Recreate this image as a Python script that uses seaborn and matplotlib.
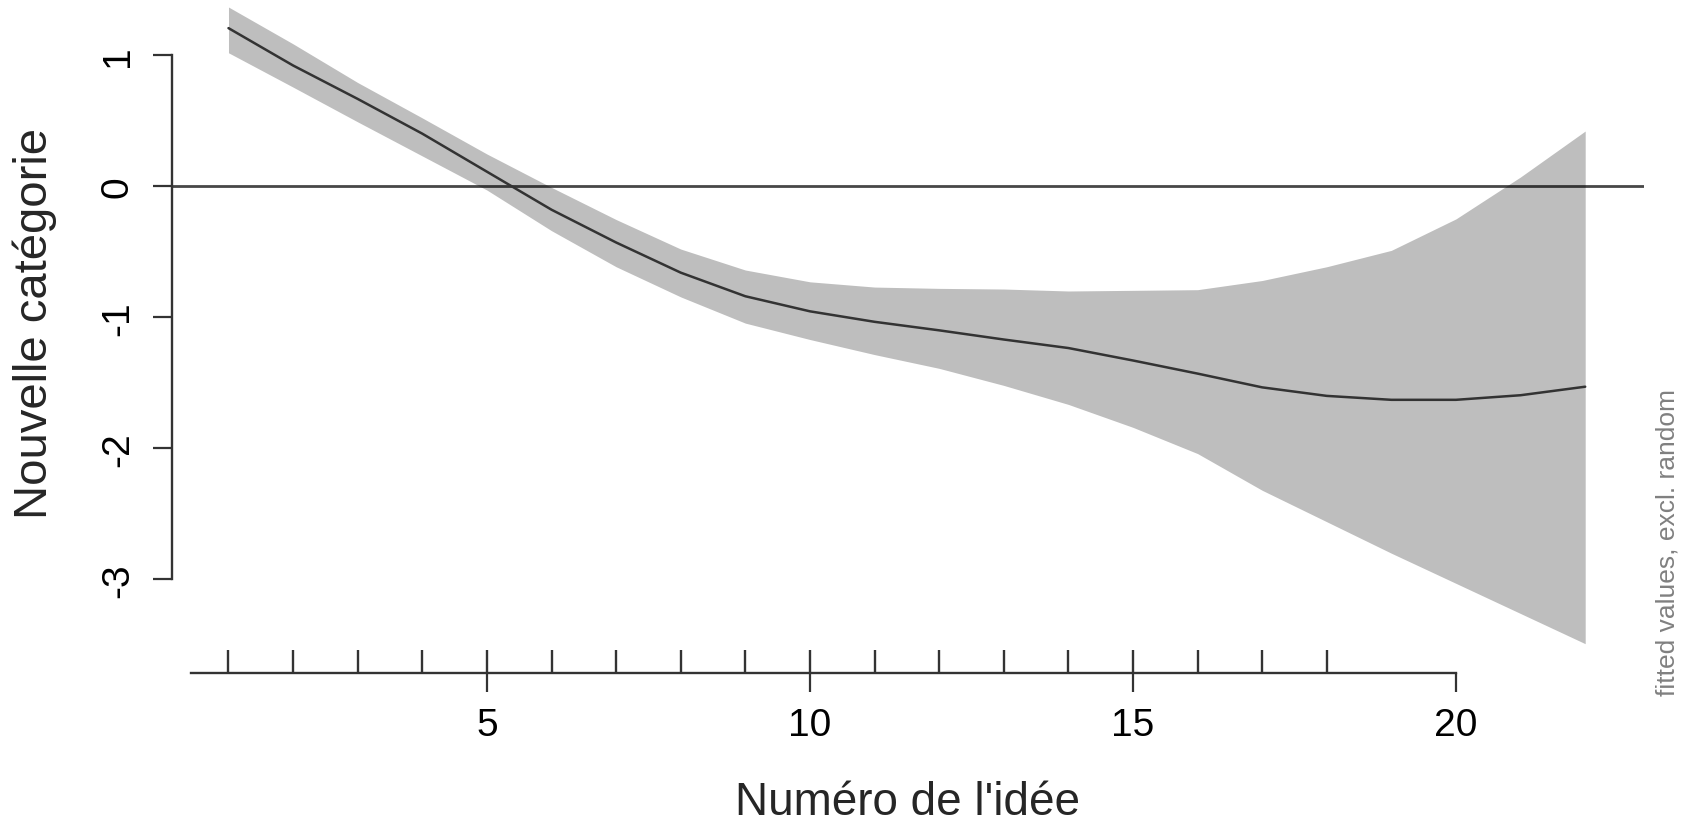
import matplotlib
matplotlib.use("Agg")
import matplotlib.pyplot as plt
import seaborn as sns

# Smooth of "Nouvelle catégorie" over idea number, with its confidence band
idea = list(range(1, 23))
fit = [1.205, 0.92, 0.665, 0.40, 0.11, -0.18, -0.43, -0.66, -0.84, -0.955,
       -1.035, -1.10, -1.17, -1.235, -1.33, -1.43, -1.535, -1.60, -1.63,
       -1.63, -1.595, -1.53]
upper = [1.366, 1.085, 0.79, 0.52, 0.245, -0.01, -0.255, -0.48, -0.64, -0.73,
         -0.77, -0.78, -0.785, -0.80, -0.795, -0.79, -0.72, -0.615, -0.49,
         -0.25, 0.07, 0.42]
lower = [1.017, 0.755, 0.49, 0.23, -0.03, -0.34, -0.615, -0.845, -1.045, -1.17,
         -1.285, -1.39, -1.52, -1.665, -1.84, -2.04, -2.32, -2.56, -2.80,
         -3.03, -3.26, -3.49]

# Observed idea numbers shown as a rug under the curve
observed = list(range(1, 19))

x_ticks = [5, 10, 15, 20]
y_ticks = [-3, -2, -1, 0, 1]

sns.set_style("ticks")
plt.rcParams["font.family"] = ["Liberation Sans", "DejaVu Sans"]

fig = plt.figure(figsize=(16.91, 8.29), dpi=100)
ax = fig.add_axes([0.1015, 0.1866, 0.8707, 0.8352])

ax.fill_between(idea, lower, upper, color="#BEBEBE", linewidth=0, zorder=1)
sns.lineplot(x=idea, y=fit, color="#333333", linewidth=1.8, ax=ax, zorder=3)
ax.axhline(0, color="black", alpha=0.72, linewidth=2.0, zorder=2)
sns.rugplot(x=observed, height=0.033, color="#333333", linewidth=1.7, ax=ax,
            expand_margins=False, clip_on=False)

ax.set_xlim(0.12, 22.91)
ax.set_ylim(-3.716, 1.565)

for side in ("top", "right"):
    ax.spines[side].set_visible(False)
for side in ("left", "bottom"):
    ax.spines[side].set_color("#333333")
    ax.spines[side].set_linewidth(1.7)
ax.spines["left"].set_bounds(-3, 1)
ax.spines["bottom"].set_bounds(0.42, 20)

ax.set_xticks(x_ticks)
ax.set_xticklabels([str(v) for v in x_ticks])
ax.set_yticks(y_ticks)
ax.set_yticklabels([str(v) for v in y_ticks], rotation=90, va="center")
ax.tick_params(axis="both", direction="out", length=13.7, width=1.6,
               color="#333333", labelsize=28, labelcolor="black")
ax.tick_params(axis="x", pad=10.5)
ax.tick_params(axis="y", pad=12)

ax.set_xlabel("Numéro de l'idée", fontsize=33, va="center")
ax.xaxis.set_label_coords(0.5, -0.186)
ax.set_ylabel("Nouvelle catégorie", fontsize=34, va="center", ha="center")
ax.yaxis.set_label_coords(-0.0932, 0.507)

fig.text(1668 / 1691, 1 - 543 / 829, "fitted values, excl. random",
         rotation=90, color="#808080", fontsize=19, ha="center", va="center")

fig.savefig("out.png", dpi=100)
